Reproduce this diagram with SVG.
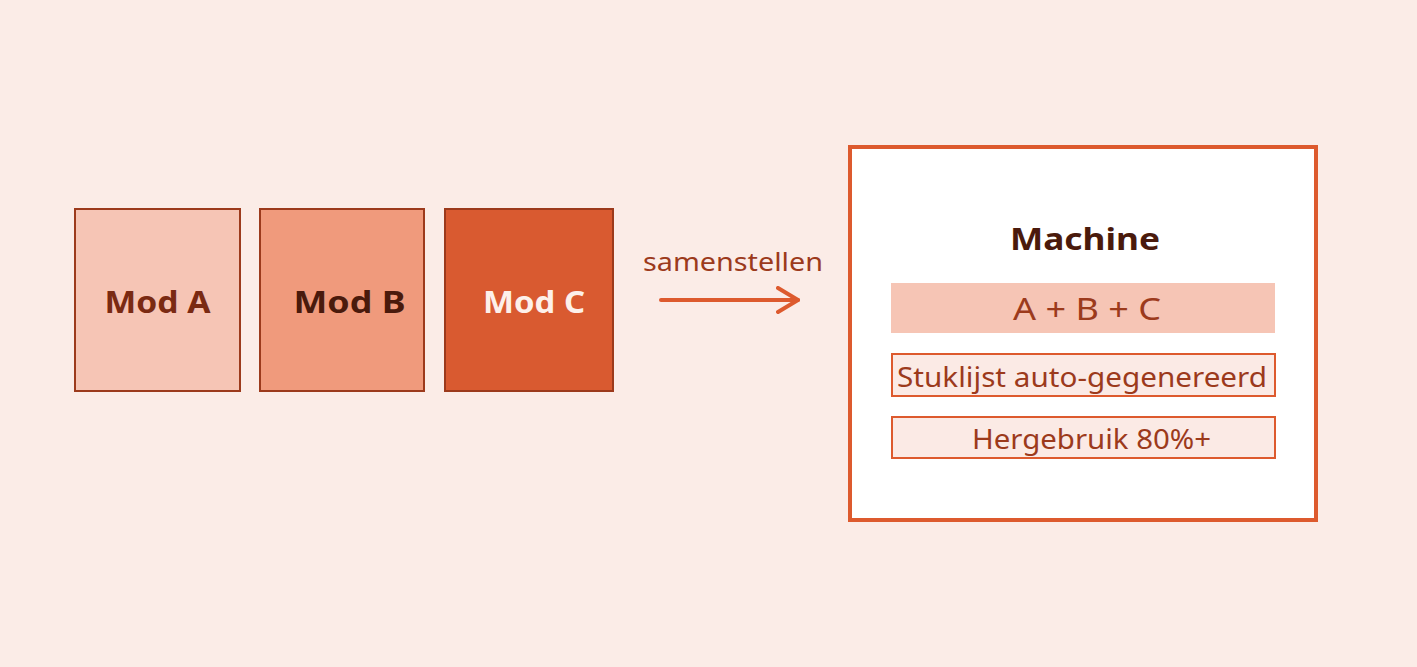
<svg xmlns="http://www.w3.org/2000/svg" width="1417" height="667" viewBox="0 0 1417 667">
<style>
.mod{stroke:#9c3a1c;stroke-width:2}
.lbl{font-family:"Noto Sans","Liberation Sans",sans-serif;font-weight:bold;font-size:30px;text-anchor:middle}
.txt{font-family:"Noto Sans","Liberation Sans",sans-serif;text-anchor:middle;fill:#9c3a1c}
.row{fill:#fbeae5;stroke:#dd5a2e;stroke-width:2}
</style>
<defs>
<marker id="arr" viewBox="0 0 24 28" refX="22" refY="14" markerWidth="24" markerHeight="28" markerUnits="userSpaceOnUse" orient="auto">
<path d="M2,2 L22,14 L2,26" fill="none" stroke="#dd5a2e" stroke-width="4" stroke-linecap="round" stroke-linejoin="round"/>
</marker>
</defs>
<rect width="1417" height="667" fill="#fbece7"/>
<g id="modA">
<rect class="mod" x="75" y="209" width="165" height="182" fill="#f6c5b5"/>
<text class="lbl" x="157.5" y="313" fill="#7a2a12" textLength="106" lengthAdjust="spacingAndGlyphs">Mod A</text>
</g>
<g id="modB">
<rect class="mod" x="260" y="209" width="164" height="182" fill="#f09a7c"/>
<text class="lbl" x="349.5" y="313" fill="#4a1a0c" textLength="112" lengthAdjust="spacingAndGlyphs">Mod B</text>
</g>
<g id="modC">
<rect class="mod" x="445" y="209" width="168" height="182" fill="#d95a30"/>
<text class="lbl" x="534" y="313" fill="#fdf0ea" textLength="102" lengthAdjust="spacingAndGlyphs">Mod C</text>
</g>
<g id="connectors">
<line x1="661" y1="300" x2="798" y2="300" stroke="#dd5a2e" stroke-width="4" stroke-linecap="round" marker-end="url(#arr)"/>
<text class="txt" x="733" y="271" font-size="25" textLength="180" lengthAdjust="spacingAndGlyphs">samenstellen</text>
</g>
<g id="machine">
<rect x="850" y="147" width="466" height="373" fill="#ffffff" stroke="#dd5a2e" stroke-width="4"/>
<text class="lbl" x="1085" y="250" font-size="35" fill="#4a1a0c" textLength="150" lengthAdjust="spacingAndGlyphs">Machine</text>
<rect x="891" y="283" width="384" height="50" fill="#f6c5b5"/>
<text class="txt" x="1087" y="320" font-size="30" textLength="148" lengthAdjust="spacingAndGlyphs">A + B + C</text>
<rect class="row" x="892" y="354" width="383" height="42"/>
<text class="txt" x="1082" y="387" font-size="27" textLength="370" lengthAdjust="spacingAndGlyphs">Stuklijst auto-gegenereerd</text>
<rect class="row" x="892" y="417" width="383" height="41"/>
<text class="txt" x="1091.5" y="449" font-size="27" textLength="239" lengthAdjust="spacingAndGlyphs">Hergebruik 80%+</text>
</g>
</svg>
